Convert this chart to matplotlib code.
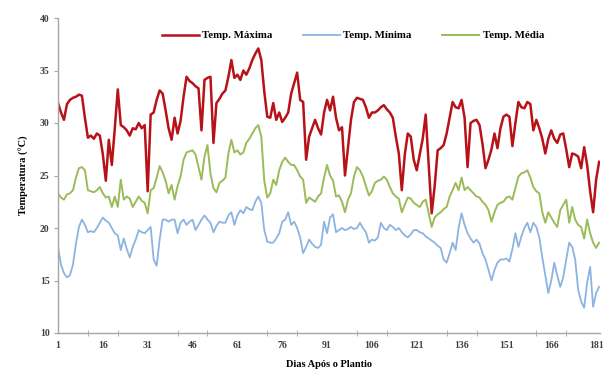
import matplotlib
matplotlib.use("Agg")
import matplotlib.pyplot as plt
import numpy as np

# daily temperatures (°C), days 1..182 after planting
temp_max = [
    31.9, 31.0, 30.3, 31.8, 32.2, 32.4, 32.5, 32.7, 32.6, 30.5,
    28.6, 28.8, 28.5, 29.0, 28.8, 27.0, 24.5, 28.4, 26.0, 29.5,
    33.2, 29.8, 29.6, 29.3, 28.8, 29.5, 29.4, 30.0, 29.5, 29.8,
    23.5, 30.8, 31.0, 32.2, 33.1, 32.8, 31.2, 29.5, 28.4, 30.5,
    29.0, 30.2, 32.5, 34.4, 34.0, 33.8, 33.5, 33.3, 29.3, 34.1,
    34.3, 34.4, 28.1, 31.9, 32.3, 32.8, 33.1, 34.4, 36.0, 34.3,
    34.6, 34.1, 35.0, 34.6, 35.2, 36.0, 36.6, 37.1, 36.0, 33.0,
    30.6, 30.5, 31.9, 30.3, 31.0, 30.1, 30.5, 31.0, 32.8, 33.8,
    34.8, 32.2, 32.0, 26.5, 28.7, 29.5, 30.3, 29.5, 28.9, 31.0,
    32.2, 31.2, 32.5, 30.5, 29.3, 29.6, 25.0, 27.7, 30.3, 32.0,
    32.4, 32.3, 32.2, 31.5, 30.5, 31.0, 31.0, 31.2, 31.5, 31.7,
    31.3, 31.0, 30.5, 28.7, 27.1, 23.6, 27.0, 29.0, 28.7, 26.5,
    25.5, 27.0, 28.5, 30.8, 26.0, 21.4, 24.0, 27.4, 27.6, 27.9,
    29.0, 30.5, 32.0, 31.5, 31.4, 32.2, 30.5, 25.8, 30.0, 30.2,
    30.3, 29.8, 28.0, 25.7, 26.5, 27.5, 29.0, 27.6, 29.5, 30.6,
    30.8, 30.6, 27.8, 30.0, 32.0, 31.5, 31.4, 32.0, 31.8, 29.3,
    30.3, 29.5, 28.5, 27.1, 28.5, 29.3, 28.5, 28.1, 28.9, 29.0,
    27.5, 25.8, 27.1, 27.0, 26.8, 25.7, 27.7, 26.0, 23.5, 21.5,
    24.6, 26.3,
]

temp_min = [
    18.2, 16.5, 15.7, 15.3, 15.5, 16.5, 18.5, 20.1, 20.8, 20.3,
    19.6, 19.7, 19.6, 20.0, 20.5, 21.0, 20.7, 20.5, 20.0, 19.5,
    19.3, 17.9, 19.0, 18.0, 17.2, 18.2, 18.9, 19.8, 19.6, 19.5,
    19.8, 20.1, 17.0, 16.4, 18.9, 20.8, 20.8, 20.6, 20.8, 20.8,
    19.5, 20.5, 20.8, 20.3, 20.6, 20.8, 19.8, 20.3, 20.8, 21.2,
    20.8, 20.5, 19.6, 20.2, 20.6, 20.5, 20.5, 21.2, 21.5, 20.3,
    21.2, 21.7, 21.4, 22.0, 21.8, 21.7, 22.5, 23.0, 22.4, 19.8,
    18.7, 18.6, 18.6, 19.0, 19.5, 20.6, 20.8, 21.5, 20.3, 20.6,
    20.0, 19.1, 17.6, 18.2, 18.9, 18.5, 18.2, 18.1, 18.4, 20.6,
    19.5, 21.0, 21.3, 19.6, 19.8, 20.0, 19.8, 19.9, 20.1, 19.9,
    20.0, 20.5, 20.0, 19.6, 18.6, 18.9, 18.8, 19.1, 20.5, 20.0,
    19.8, 20.3, 20.1, 19.8, 20.0, 19.6, 19.3, 19.1, 19.4, 19.8,
    19.8, 19.6, 19.5, 19.2, 19.0, 18.8, 18.6, 18.3, 18.1, 17.0,
    16.7, 17.6, 18.6, 17.9, 20.0, 21.4, 20.3, 19.5, 19.0, 18.6,
    18.9, 18.5, 17.6, 17.0, 16.0, 15.0, 16.0, 16.7, 17.0, 17.0,
    17.1, 16.8, 18.0, 19.5, 18.2, 19.2, 20.0, 20.5, 19.6, 20.5,
    20.1, 19.1, 17.2, 15.5, 13.8, 15.0, 16.7, 15.5, 14.4, 15.3,
    17.0, 18.6, 18.2, 17.0, 14.1, 13.0, 12.4, 14.8, 16.3, 12.5,
    13.8, 14.4,
]

temp_med = [
    23.3, 22.9, 22.7, 23.2, 23.3, 23.6, 24.8, 25.7, 25.8, 25.5,
    23.6, 23.5, 23.4, 23.6, 23.9, 23.3, 22.9, 23.0, 22.0, 23.0,
    22.0, 24.6, 22.7, 23.0, 22.8, 22.0, 22.5, 23.0, 22.6, 22.4,
    21.4, 23.6, 23.8, 24.8, 25.9, 25.3, 24.5, 23.3, 24.1, 22.7,
    24.0, 24.9, 26.5, 27.2, 27.3, 27.4, 27.0, 25.8, 24.6, 26.8,
    27.9, 25.2, 23.8, 23.4, 24.3, 24.5, 24.8, 27.1, 28.4, 27.2,
    27.4, 27.0, 27.2, 28.1, 28.5, 29.0, 29.5, 29.8, 28.7, 24.5,
    22.9, 23.3, 24.6, 24.1, 25.5, 26.3, 26.7, 26.3, 26.0, 26.0,
    25.5, 24.9, 24.6, 22.4, 22.9, 22.7, 22.5, 23.0, 23.3, 24.8,
    26.0, 25.0, 24.5, 23.0, 23.1, 22.5, 21.5, 22.7, 23.3, 24.9,
    25.8, 25.5, 24.9, 24.0, 23.1, 23.5, 24.3, 24.5, 24.6, 24.9,
    24.6, 23.9, 23.3, 23.0, 22.8, 21.5, 22.2, 22.9, 22.8, 22.4,
    22.2, 22.0, 22.5, 22.7, 21.4, 20.1, 21.0, 21.3, 21.5, 21.8,
    22.0, 23.0, 23.6, 24.3, 23.6, 24.8, 23.6, 23.9, 23.6, 23.3,
    23.0, 22.9, 22.5, 22.2, 21.7, 20.6, 21.5, 22.2, 22.4, 22.5,
    22.9, 23.0, 22.7, 23.8, 24.9, 25.2, 25.3, 25.5, 24.8, 23.9,
    23.5, 23.3, 21.5, 20.5, 21.5, 21.0, 20.5, 20.1, 21.7, 22.2,
    22.7, 20.5, 22.0, 20.8, 20.3, 20.1, 19.0, 20.8, 19.5, 18.6,
    18.1, 18.6,
]

days = np.arange(1, len(temp_max) + 1)
x_labels = [1, 16, 31, 46, 61, 76, 91, 106, 121, 136, 151, 166, 181]

plt.rcParams['font.family'] = ['Liberation Serif', 'DejaVu Serif']
plt.rcParams['font.weight'] = 'bold'

fig = plt.figure(figsize=(6.03, 3.76), dpi=100)
ax = fig.add_axes([58 / 603, 43 / 376, 542 / 603, 315 / 376])

ax.plot(days, temp_max, color='#B81219', lw=1.8, label='Temp. Máxima')
ax.plot(days, temp_min, color='#8DB3E2', lw=1.3, label='Temp. Mínima')
ax.plot(days, temp_med, color='#9BBB59', lw=1.4, label='Temp. Média')

ax.set_xlim(1, 182.3)
ax.set_ylim(10, 40)
ax.set_yticks(np.arange(10, 41, 5))
ax.set_xticks(x_labels)
ax.set_xticks(np.arange(1, 183, 10), minor=True)

for s in ['top', 'right']:
    ax.spines[s].set_visible(False)
for s in ['left', 'bottom']:
    ax.spines[s].set_color('#A6A6A6')
    ax.spines[s].set_linewidth(1.0)

ax.tick_params(axis='y', labelsize=7, colors='#A6A6A6', labelcolor='#404040',
               length=3, direction='out', pad=3)
ax.tick_params(axis='x', which='major', labelsize=7, labelcolor='#404040',
               length=0, pad=6)
ax.tick_params(axis='x', which='minor', colors='#A6A6A6', length=5,
               direction='inout')

ax.set_ylabel('Temperatura (°C)', fontsize=7.5, fontweight='bold', labelpad=8)
ax.set_xlabel('Dias Após o Plantio', fontsize=7.5, fontweight='bold', labelpad=7)

ax.legend(loc='upper center', bbox_to_anchor=(0.544, 0.99), ncol=3,
          frameon=False, fontsize=7.8, handlelength=3.4, columnspacing=2.85,
          handletextpad=0.3)

fig.savefig('out.png', dpi=100)
